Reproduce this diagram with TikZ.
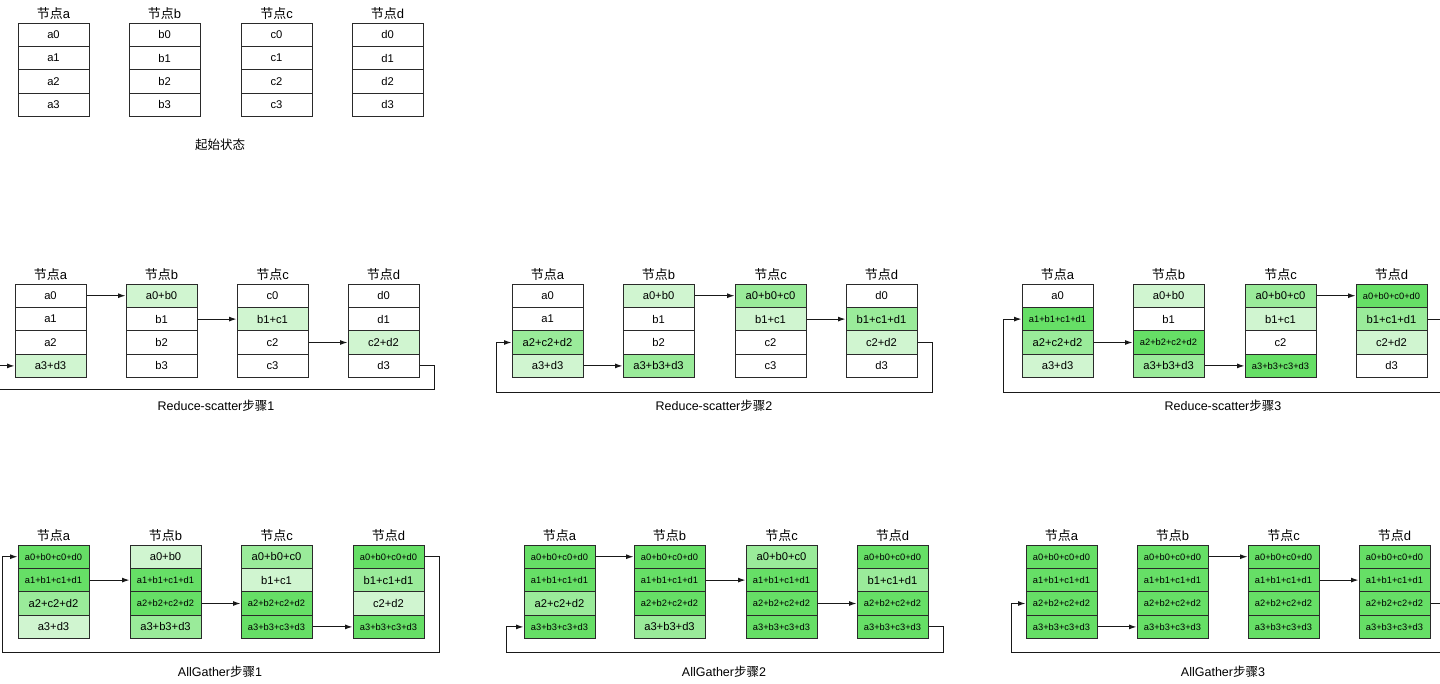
\documentclass[tikz,border=0pt]{standalone}
\usepackage{fontspec}
\setmainfont{Liberation Sans}
\newfontfamily\cjk{Noto Sans CJK SC}
\usetikzlibrary{arrows.meta}
\definecolor{fillW}{HTML}{FFFFFF}
\definecolor{fillL}{HTML}{D0F5D0}
\definecolor{fillM}{HTML}{9AEB9A}
\definecolor{fillD}{HTML}{66DF66}
\definecolor{lnc}{HTML}{2A2A2A}
\tikzset{
  cell/.style={draw=lnc, line width=1pt, minimum width=71pt, minimum height=23.4pt,
    inner sep=0pt, font=\fontsize{11.2}{13}\selectfont, text=black},
  fW/.style={fill=fillW}, fL/.style={fill=fillL}, fM/.style={fill=fillM},
  fD/.style={fill=fillD, font=\fontsize{9.3}{11}\selectfont},
  ttl/.style={font=\fontsize{13}{15}\selectfont, inner sep=0pt, text=black},
  captxt/.style={font=\fontsize{12.5}{15}\selectfont, inner sep=0pt, text=black},
  arr/.style={draw=black!90, line width=1pt, -{Latex[length=7.5pt,width=5pt]}},
}
\newcommand\Col[5]{%
  \node[ttl] (#1t) at ({#2+35.5},{#3-9.5}) {{\cjk 节点}#4};
  \foreach \cellst/\celltx [count=\ci from 0] in {#5} {
    \node[cell,\cellst] (#1\ci) at ({#2+35.5},{#3+11.7+\ci*23.4}) {\celltx};
  }%
}
\begin{document}
\begin{tikzpicture}[x=1pt,y=-1pt]
\useasboundingbox[fill=white] (0,0) rectangle (1440,683);

% ---------- start state ----------
\Col{sa}{18}{23}{a}{fW/a0,fW/a1,fW/a2,fW/a3}
\Col{sb}{129}{23}{b}{fW/b0,fW/b1,fW/b2,fW/b3}
\Col{sc}{241}{23}{c}{fW/c0,fW/c1,fW/c2,fW/c3}
\Col{sd}{352}{23}{d}{fW/d0,fW/d1,fW/d2,fW/d3}
\node[captxt] (caps) at (220,145) {{\cjk 起始状态}};

% ---------- Reduce-scatter 1 ----------
\Col{pa}{15}{284}{a}{fW/a0,fW/a1,fW/a2,fL/a3+d3}
\Col{pb}{126}{284}{b}{fL/a0+b0,fW/b1,fW/b2,fW/b3}
\Col{pc}{237}{284}{c}{fW/c0,fL/b1+c1,fW/c2,fW/c3}
\Col{pd}{348}{284}{d}{fW/d0,fW/d1,fL/c2+d2,fW/d3}
\draw[arr] (pa0.east) -- (pb0.west);
\draw[arr] (pb1.east) -- (pc1.west);
\draw[arr] (pc2.east) -- (pd2.west);
\draw[arr] (pd3.east) -| (434,389) -| ([xshift=-25pt]pa3.west) -- (pa3.west);
\node[captxt] (capp1) at (216,406) {Reduce-scatter{\cjk 步骤}1};

% ---------- Reduce-scatter 2 ----------
\Col{qa}{512}{284}{a}{fW/a0,fW/a1,fM/a2+c2+d2,fL/a3+d3}
\Col{qb}{623}{284}{b}{fL/a0+b0,fW/b1,fW/b2,fM/a3+b3+d3}
\Col{qc}{735}{284}{c}{fM/a0+b0+c0,fL/b1+c1,fW/c2,fW/c3}
\Col{qd}{846}{284}{d}{fW/d0,fM/b1+c1+d1,fL/c2+d2,fW/d3}
\draw[arr] (qa3.east) -- (qb3.west);
\draw[arr] (qb0.east) -- (qc0.west);
\draw[arr] (qc1.east) -- (qd1.west);
\draw[arr] (qd2.east) -| (932,392) -| ([xshift=-15pt]qa2.west) -- (qa2.west);
\node[captxt] (capp2) at (714,406) {Reduce-scatter{\cjk 步骤}2};

% ---------- Reduce-scatter 3 ----------
\Col{ra}{1022}{284}{a}{fW/a0,fD/a1+b1+c1+d1,fM/a2+c2+d2,fL/a3+d3}
\Col{rb}{1133}{284}{b}{fL/a0+b0,fW/b1,fD/a2+b2+c2+d2,fM/a3+b3+d3}
\Col{rc}{1245}{284}{c}{fM/a0+b0+c0,fL/b1+c1,fW/c2,fD/a3+b3+c3+d3}
\Col{rd}{1356}{284}{d}{fD/a0+b0+c0+d0,fM/b1+c1+d1,fL/c2+d2,fW/d3}
\draw[arr] (ra2.east) -- (rb2.west);
\draw[arr] (rb3.east) -- (rc3.west);
\draw[arr] (rc0.east) -- (rd0.west);
\draw[arr] (rd1.east) -| (1460,392) -| ([xshift=-18pt]ra1.west) -- (ra1.west);
\node[captxt] (capp3) at (1223,406) {Reduce-scatter{\cjk 步骤}3};

% ---------- AllGather 1 ----------
\Col{ga}{18}{545}{a}{fD/a0+b0+c0+d0,fD/a1+b1+c1+d1,fM/a2+c2+d2,fL/a3+d3}
\Col{gb}{130}{545}{b}{fL/a0+b0,fD/a1+b1+c1+d1,fD/a2+b2+c2+d2,fM/a3+b3+d3}
\Col{gc}{241}{545}{c}{fM/a0+b0+c0,fL/b1+c1,fD/a2+b2+c2+d2,fD/a3+b3+c3+d3}
\Col{gd}{353}{545}{d}{fD/a0+b0+c0+d0,fM/b1+c1+d1,fL/c2+d2,fD/a3+b3+c3+d3}
\draw[arr] (ga1.east) -- (gb1.west);
\draw[arr] (gb2.east) -- (gc2.west);
\draw[arr] (gc3.east) -- (gd3.west);
\draw[arr] (gd0.east) -| (439,652) -| ([xshift=-15pt]ga0.west) -- (ga0.west);
\node[captxt] (capg1) at (220,672) {AllGather{\cjk 步骤}1};

% ---------- AllGather 2 ----------
\Col{ha}{524}{545}{a}{fD/a0+b0+c0+d0,fD/a1+b1+c1+d1,fM/a2+c2+d2,fD/a3+b3+c3+d3}
\Col{hb}{634}{545}{b}{fD/a0+b0+c0+d0,fD/a1+b1+c1+d1,fD/a2+b2+c2+d2,fM/a3+b3+d3}
\Col{hc}{746}{545}{c}{fM/a0+b0+c0,fD/a1+b1+c1+d1,fD/a2+b2+c2+d2,fD/a3+b3+c3+d3}
\Col{hd}{857}{545}{d}{fD/a0+b0+c0+d0,fM/b1+c1+d1,fD/a2+b2+c2+d2,fD/a3+b3+c3+d3}
\draw[arr] (ha0.east) -- (hb0.west);
\draw[arr] (hb1.east) -- (hc1.west);
\draw[arr] (hc2.east) -- (hd2.west);
\draw[arr] (hd3.east) -| (943,652) -| ([xshift=-17pt]ha3.west) -- (ha3.west);
\node[captxt] (capg2) at (724,672) {AllGather{\cjk 步骤}2};

% ---------- AllGather 3 ----------
\Col{ka}{1026}{545}{a}{fD/a0+b0+c0+d0,fD/a1+b1+c1+d1,fD/a2+b2+c2+d2,fD/a3+b3+c3+d3}
\Col{kb}{1137}{545}{b}{fD/a0+b0+c0+d0,fD/a1+b1+c1+d1,fD/a2+b2+c2+d2,fD/a3+b3+c3+d3}
\Col{kc}{1248}{545}{c}{fD/a0+b0+c0+d0,fD/a1+b1+c1+d1,fD/a2+b2+c2+d2,fD/a3+b3+c3+d3}
\Col{kd}{1359}{545}{d}{fD/a0+b0+c0+d0,fD/a1+b1+c1+d1,fD/a2+b2+c2+d2,fD/a3+b3+c3+d3}
\draw[arr] (ka3.east) -- (kb3.west);
\draw[arr] (kb0.east) -- (kc0.west);
\draw[arr] (kc1.east) -- (kd1.west);
\draw[arr] (kd2.east) -| (1460,652) -| ([xshift=-14pt]ka2.west) -- (ka2.west);
\node[captxt] (capg3) at (1223,672) {AllGather{\cjk 步骤}3};
\end{tikzpicture}
\end{document}
